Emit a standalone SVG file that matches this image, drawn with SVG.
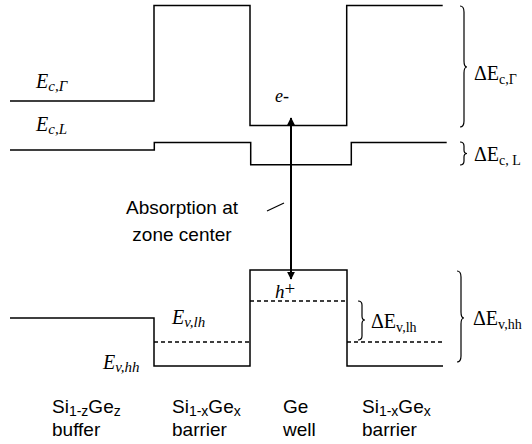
<svg xmlns="http://www.w3.org/2000/svg" width="532" height="444" viewBox="0 0 532 444">
<style>
.band{fill:none;stroke:#000;stroke-width:1.5}
.dash{fill:none;stroke:#000;stroke-width:1.5;stroke-dasharray:4 3}
.brace{fill:none;stroke:#000;stroke-width:1.2}
.it{font-family:"Liberation Serif","Times New Roman",serif;font-style:italic;font-size:20px;fill:#000}
.rm{font-family:"Liberation Serif","Times New Roman",serif;font-size:20px;fill:#000}
.sans{font-family:"Liberation Sans",Arial,sans-serif;font-size:19px;fill:#000}
.isub{font-size:15px}
.rsub{font-size:14px}
.ssub{font-size:14px}
</style>
<defs>
<marker id="ah" viewBox="0 0 10 10" refX="9" refY="5" markerWidth="4" markerHeight="4.5" orient="auto-start-reverse" markerUnits="strokeWidth">
<path d="M0 0 L10 5 L0 10 Z" fill="#000"/>
</marker>
</defs>
<rect width="532" height="444" fill="#fff"/>
<g id="bands">
<path class="band" d="M10 101 H154 V5.5 H250 V125.5 H346.7 V5.5 H442.7"/>
<path class="band" d="M10 150 H154.3 V142.5 H250.7 V164.7 H351.3 V142.5 H446.7"/>
<path class="band" d="M10 318 H154 V366 H250 V270 H347 V366 H443"/>
<path class="dash" d="M154 342 H250 M250 301 H347 M347 342 H443"/>
</g>
<g id="level-labels">
<text class="it" x="36" y="88">E<tspan class="isub" dy="3">c,Γ</tspan></text>
<text class="it" x="36" y="131">E<tspan class="isub" dy="3">c,L</tspan></text>
<text class="it" x="172" y="324">E<tspan class="isub" dy="3">v,lh</tspan></text>
<text class="it" x="103" y="369">E<tspan class="isub" dy="3">v,hh</tspan></text>
<text class="it" x="275" y="102" style="font-size:18px">e-</text>
<text class="it" x="275" y="298" style="font-size:19px">h<tspan style="font-style:normal" dy="-3">+</tspan></text>
</g>
<g id="connectors">
<line x1="291" y1="279" x2="291" y2="118" stroke="#000" stroke-width="2" marker-start="url(#ah)" marker-end="url(#ah)"/>
<line x1="267" y1="211" x2="284" y2="203" stroke="#000" stroke-width="1.2"/>
</g>
<g id="absorption-label">
<text class="sans" x="182" y="214" text-anchor="middle">Absorption at</text>
<text class="sans" x="182" y="241" text-anchor="middle">zone center</text>
</g>
<g id="braces">
<path class="brace" d="M460 6 Q464 6 464 12 V61 Q464 67 467 67 Q464 67 464 73 V121 Q464 127 460 127"/>
<path class="brace" d="M460 142 Q464 142 464 146 V150 Q464 153.5 467 153.5 Q464 153.5 464 157 V161 Q464 165 460 165"/>
<path class="brace" d="M358 301 Q362 301 362 305 V316 Q362 320 365 320 Q362 320 362 324 V336 Q362 340 358 340"/>
<path class="brace" d="M457 271 Q461 271 461 277 V312 Q461 318 464 318 Q461 318 461 324 V356 Q461 362 457 362"/>
</g>
<g id="offset-labels">
<text class="rm" x="474" y="80">ΔE<tspan class="rsub" dy="4">c,Γ</tspan></text>
<text class="rm" x="474" y="161">ΔE<tspan class="rsub" dy="4">c, L</tspan></text>
<text class="rm" x="371" y="328">ΔE<tspan class="rsub" dy="4">v,lh</tspan></text>
<text class="rm" x="473" y="325">ΔE<tspan class="rsub" dy="4">v,hh</tspan></text>
</g>
<g id="layer-labels">
<text class="sans" x="52" y="413">Si<tspan class="ssub" dy="3">1-z</tspan><tspan dy="-3">Ge</tspan><tspan class="ssub" dy="3">z</tspan></text>
<text class="sans" x="52" y="436">buffer</text>
<text class="sans" x="172" y="413">Si<tspan class="ssub" dy="3">1-x</tspan><tspan dy="-3">Ge</tspan><tspan class="ssub" dy="3">x</tspan></text>
<text class="sans" x="172" y="436">barrier</text>
<text class="sans" x="283" y="413">Ge</text>
<text class="sans" x="283" y="436">well</text>
<text class="sans" x="362" y="413">Si<tspan class="ssub" dy="3">1-x</tspan><tspan dy="-3">Ge</tspan><tspan class="ssub" dy="3">x</tspan></text>
<text class="sans" x="362" y="436">barrier</text>
</g>
</svg>
